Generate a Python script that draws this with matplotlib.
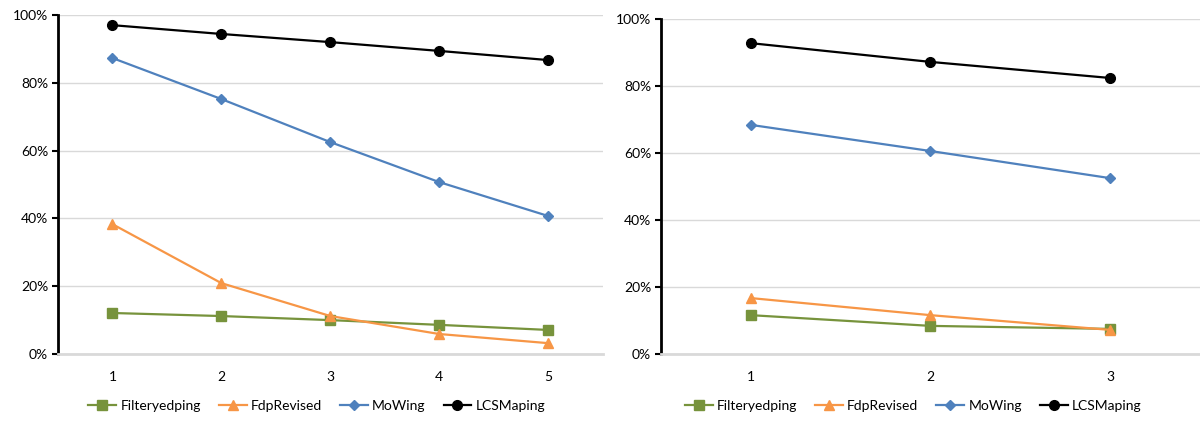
import matplotlib.pyplot as plt
from matplotlib.ticker import PercentFormatter

plt.rcParams['font.family'] = ['Lato', 'DejaVu Sans']

series = ['Filteryedping', 'FdpRevised', 'MoWing', 'LCSMaping']
colors = ['#77933C', '#F79646', '#4F81BD', '#000000']
markers = ['s', '^', 'D', 'o']
msizes = [7, 7, 5, 7]

# left panel: 5 steps
x_left = [1, 2, 3, 4, 5]
filteryedping_left = [12.1, 11.2, 10.0, 8.6, 7.1]
fdprevised_left = [38.3, 20.9, 11.2, 5.9, 3.2]
mowing_left = [87.3, 75.2, 62.5, 50.7, 40.7]
lcsmaping_left = [97.0, 94.4, 92.0, 89.4, 86.7]

# right panel: 3 steps
x_right = [1, 2, 3]
filteryedping_right = [11.6, 8.4, 7.5]
fdprevised_right = [16.7, 11.6, 7.2]
mowing_right = [68.4, 60.6, 52.5]
lcsmaping_right = [92.8, 87.2, 82.4]

fig = plt.figure(figsize=(12, 4.21), dpi=100)
ax1 = fig.add_axes([0.0483, 0.1591, 0.454, 0.8053])
ax2 = fig.add_axes([0.5508, 0.1591, 0.4492, 0.7957])


def draw(ax, x, data, legend_x):
    handles = []
    for vals, c, m, ms, name in zip(data, colors, markers, msizes, series):
        h, = ax.plot(x, vals, color=c, marker=m, markersize=ms, lw=1.6,
                     label=name)
        handles.append(h)
    ax.set_xlim(0.5, len(x) + 0.5)
    ax.set_ylim(0, 100)
    ax.set_xticks(x)
    ax.set_yticks(range(0, 101, 20))
    ax.yaxis.set_major_formatter(PercentFormatter(decimals=0))
    ax.grid(axis='y', color='#D9D9D9', lw=1)
    ax.set_axisbelow(True)
    for s in ['top', 'right']:
        ax.spines[s].set_visible(False)
    ax.spines['left'].set_linewidth(2)
    ax.spines['left'].set_color('black')
    ax.spines['bottom'].set_color('#D9D9D9')
    ax.spines['bottom'].set_linewidth(2)
    ax.tick_params(axis='x', length=0, pad=12, labelsize=10)
    ax.tick_params(axis='y', length=4, width=1.5, pad=3, labelsize=10)
    fig.legend(handles=handles, loc='center', ncol=4, frameon=False,
               bbox_to_anchor=(legend_x, 0.035), fontsize=10,
               handlelength=2.0, columnspacing=1.3, handletextpad=0.3)


draw(ax1, x_left,
     [filteryedping_left, fdprevised_left, mowing_left, lcsmaping_left],
     0.264)
draw(ax2, x_right,
     [filteryedping_right, fdprevised_right, mowing_right, lcsmaping_right],
     0.761)

fig.savefig('out.png', dpi=100)
